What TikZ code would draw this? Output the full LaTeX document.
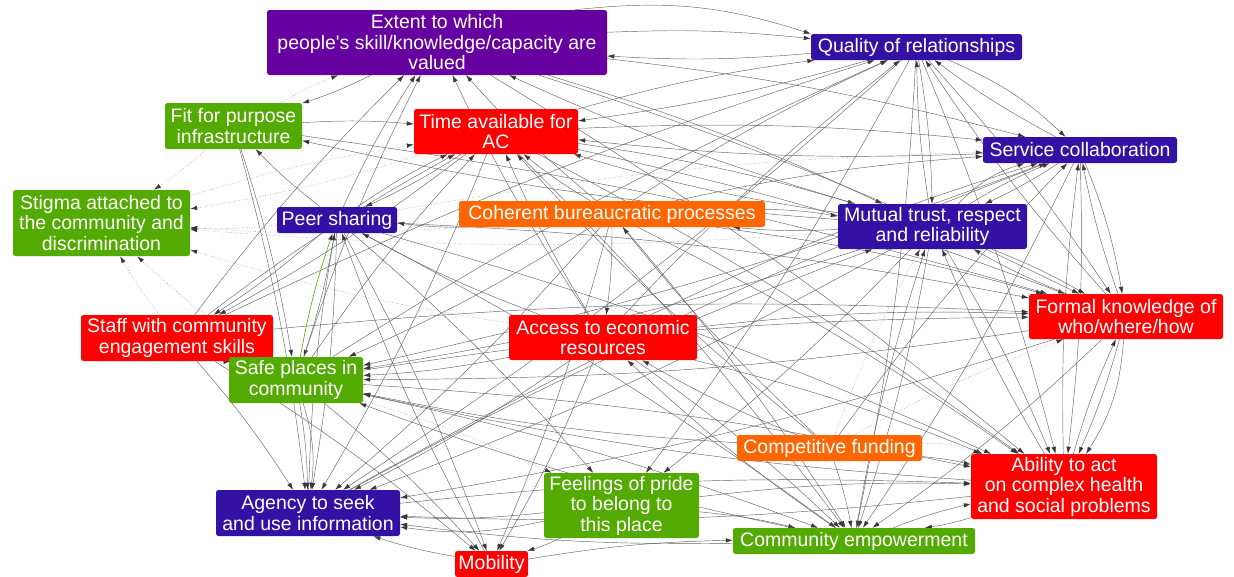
\documentclass[tikz,border=0pt]{standalone}
\usepackage{fontspec}
\setmainfont{Liberation Sans}
\usetikzlibrary{arrows.meta,backgrounds}
\definecolor{cpur}{RGB}{102,0,160}
\definecolor{cblu}{RGB}{51,17,165}
\definecolor{cgrn}{RGB}{83,170,0}
\definecolor{cred}{RGB}{255,0,0}
\definecolor{corg}{RGB}{255,102,0}
\definecolor{cline}{RGB}{100,100,100}
\definecolor{ctip}{RGB}{55,55,55}
\tikzset{
  nbox/.style={rounded corners=2.5pt, inner sep=0pt, text=white, align=center,
    font=\fontsize{19.5}{20.5}\selectfont},
  ed/.style={draw=cline, line width=0.45pt, bend left=4,
    -{Latex[length=7pt,width=4.5pt,color=ctip]}},
  dt/.style={ed, draw=black!45, dotted, line width=0.6pt},
  gr/.style={ed, draw=cgrn, line width=0.6pt}
}
\begin{document}
\begin{tikzpicture}[x=1pt,y=-1pt]
\useasboundingbox (0,0) rectangle (1234,576);
% nodes
\node[nbox,fill=cpur,minimum width=340,minimum height=65] (EX) at (437,42.5) {Extent to which\\people\textquotesingle s skill/knowledge/capacity are\\valued};
\node[nbox,fill=cblu,minimum width=211,minimum height=26] (QR) at (916.5,47) {Quality of relationships};
\node[nbox,fill=cgrn,minimum width=137,minimum height=46] (FP) at (233.5,126) {Fit for purpose\\infrastructure};
\node[nbox,fill=cred,minimum width=164,minimum height=45] (TA) at (496,131.5) {Time available for\\AC};
\node[nbox,fill=cblu,minimum width=194,minimum height=26] (SC) at (1080,150) {Service collaboration};
\node[nbox,fill=cgrn,minimum width=177,minimum height=66] (ST) at (101.5,223) {Stigma attached to\\the community and\\discrimination};
\node[nbox,fill=cblu,minimum width=120,minimum height=26] (PS) at (337,220) {Peer sharing};
\node[nbox,fill=corg,minimum width=306,minimum height=26] (CB) at (612,214) {Coherent bureaucratic processes};
\node[nbox,fill=cblu,minimum width=189,minimum height=45] (MT) at (932.5,226.5) {Mutual trust, respect\\and reliability};
\node[nbox,fill=cred,minimum width=192,minimum height=46] (SW) at (177,338) {Staff with community\\engagement skills};
\node[nbox,fill=cred,minimum width=188,minimum height=45] (AE) at (603,337.5) {Access to economic\\resources};
\node[nbox,fill=cred,minimum width=194,minimum height=45] (FK) at (1126,316.5) {Formal knowledge of\\who/where/how};
\node[nbox,fill=cgrn,minimum width=134,minimum height=46] (SP) at (296,380) {Safe places in\\community};
\node[nbox,fill=corg,minimum width=185,minimum height=26] (CF) at (829.5,448) {Competitive funding};
\node[nbox,fill=cred,minimum width=186,minimum height=65] (AA) at (1064,486.5) {Ability to act\\on complex health\\and social problems};
\node[nbox,fill=cgrn,minimum width=155,minimum height=65] (FE) at (621.5,505.5) {Feelings of pride\\to belong to\\this place};
\node[nbox,fill=cblu,minimum width=184,minimum height=46] (AG) at (308,513) {Agency to seek\\and use information};
\node[nbox,fill=cgrn,minimum width=242,minimum height=26] (CE) at (854,541) {Community empowerment};
\node[nbox,fill=cred,minimum width=73,minimum height=26] (MO) at (491.5,564) {Mobility};
% edges
\begin{pgfonlayer}{background}
% from EX
\draw[ed] (EX) to[bend left=12] (QR.north west);
\draw[ed] (EX) to (QR);
\draw[ed] (EX) to (FP);
\draw[ed] (EX) to (SC);
\draw[ed] (EX) to (MT);
\draw[ed] (EX) to (AA);
\draw[ed] (EX) to (FK);
% from QR
\draw[ed] (QR) to (EX);
\draw[ed] (QR) to[bend left=10] (SC);
\draw[ed] (QR) to (MT);
\draw[ed] (QR) to (AA);
\draw[ed] (QR) to (FK);
\draw[ed] (QR) to (AG);
\draw[ed] (QR) to (FE);
\draw[ed] (QR) to (CE);
\draw[ed] (QR) to (TA);
% from FP
\draw[ed] (FP) to (TA);
\draw[dt] (FP) to (EX);
\draw[dt] (FP) to (ST);
\draw[ed] (FP) to (AG);
\draw[ed] (FP) to (SP);
\draw[ed] (FP) to (FK);
% from TA
\draw[ed] (TA) to (QR);
\draw[ed] (TA) to (SC);
\draw[ed] (TA) to (MT);
\draw[ed] (TA) to (PS);
\draw[dt] (TA) to (ST);
\draw[ed] (TA) to (SW);
\draw[ed] (TA) to (AG);
\draw[ed] (TA) to (AA);
\draw[ed] (TA) to (FK);
\draw[ed] (TA) to (CE);
% from SC
\draw[ed] (SC) to[bend left=6] (FK);
\draw[ed] (SC) to (AA);
\draw[ed] (SC) to (MT);
\draw[ed] (SC) to (TA);
\draw[ed] (SC) to (QR);
\draw[ed] (SC) to (SP);
\draw[ed] (SC) to (CE);
% from ST
\draw[dt] (ST) to (TA);
% from PS
\draw[ed] (PS) to (EX);
\draw[ed] (PS) to (TA);
\draw[ed] (PS) to (FP);
\draw[dt] (PS) to (SC);
\draw[dt] (PS) to (ST);
\draw[ed] (PS) to (SP);
\draw[ed] (PS) to (AG);
\draw[ed] (PS) to (MO);
\draw[ed] (PS) to (CE);
\draw[ed] (PS) to (AA);
\draw[ed] (PS) to (FK);
\draw[ed] (PS) to (SW);
\draw[ed] (PS) to (FE);
% from CB
\draw[ed] (CB) to (PS);
\draw[ed] (CB) to (AE);
\draw[ed] (CB) to (TA);
\draw[ed] (CB) to (QR);
\draw[ed] (CB) to (MT);
\draw[ed] (CB) to (SC);
\draw[dt] (CB) to (ST);
\draw[ed] (CB) to (SP);
\draw[ed] (CB) to (AA);
\draw[ed] (CB) to (FK);
\draw[ed] (CB) to (EX);
\draw[ed] (CB) to (AG);
\draw[ed] (CB) to (CE);
\draw[ed] (CB) to (MO);
% from MT
\draw[ed] (MT) to (QR);
\draw[ed] (MT) to (SC);
\draw[ed] (MT) to[bend left=14] (SC);
\draw[ed] (MT) to (CB);
\draw[ed] (MT) to (AA);
\draw[ed] (MT) to (FK);
\draw[ed] (MT) to (CE);
\draw[ed] (MT) to (SP);
\draw[ed] (MT) to (AG);
\draw[ed] (MT) to (TA);
\draw[ed] (MT) to (EX);
\draw[ed] (MT) to (FP);
\draw[ed] (MT) to (FE);
\draw[dt] (MT) to (ST);
% from SW
\draw[ed] (SW) to (EX);
\draw[ed] (SW) to (TA);
\draw[ed] (SW) to (SP);
\draw[ed] (SW) to (AG);
\draw[ed] (SW) to (MO);
\draw[dt] (SW) to (ST);
\draw[ed] (SW) to (QR);
\draw[ed] (SW) to (FK);
% from AE
\draw[ed] (AE) to (TA);
\draw[ed] (AE) to (EX);
\draw[ed] (AE) to (QR);
\draw[ed] (AE) to (SP);
\draw[ed] (AE) to (AG);
\draw[ed] (AE) to (MO);
\draw[ed] (AE) to (CE);
\draw[ed] (AE) to (AA);
\draw[ed] (AE) to (FK);
\draw[ed] (AE) to (SC);
\draw[dt] (AE) to (ST);
\draw[ed] (AE) to (PS);
% from FK
\draw[ed] (FK) to (AA);
\draw[ed] (FK) to[bend left=14] (AA);
\draw[ed] (FK) to (SC);
\draw[ed] (FK) to (CE);
\draw[ed] (FK) to (AG);
\draw[ed] (FK) to (SP);
\draw[ed] (FK) to (QR);
\draw[ed] (FK) to (MT);
% from SP
\draw[gr] (SP) to (PS);
\draw[ed] (SP) to (SW);
\draw[ed] (SP) to (EX);
\draw[ed] (SP) to (TA);
\draw[ed] (SP) to (AG);
\draw[ed] (SP) to[bend left=12] (AG);
\draw[ed] (SP) to (MO);
\draw[dt] (SP) to (FE);
\draw[ed] (SP) to (CE);
\draw[ed] (SP) to (AA);
\draw[ed] (SP) to (FK);
\draw[dt] (SP) to (ST);
\draw[ed] (SP) to (QR);
% from CF
\draw[ed] (CF) to (AA);
\draw[dt] (CF) to[bend left=12] (AA);
\draw[ed] (CF) to (CE);
\draw[ed] (CF) to (AE);
\draw[ed] (CF) to (CB);
\draw[ed] (CF) to (SP);
\draw[ed] (CF) to (TA);
\draw[ed] (CF) to (SC);
\draw[dt] (CF) to (FK);
\draw[dt] (CF) to (MT);
% from AA
\draw[ed] (AA) to (CE);
\draw[ed] (AA) to (SP);
\draw[ed] (AA) to (FK);
\draw[ed] (AA) to (AG);
\draw[ed] (AA) to (SC);
\draw[ed] (AA) to (MT);
% from FE
\draw[ed] (FE) to (AG);
\draw[ed] (FE) to[bend left=10] (AG);
\draw[ed] (FE) to (CE);
\draw[ed] (FE) to (AA);
\draw[ed] (FE) to (MO);
% from AG
\draw[ed] (AG) to (PS);
\draw[ed] (AG) to (MT);
\draw[ed] (AG) to (SC);
\draw[ed] (AG) to (AA);
% from CE
\draw[ed] (CE) to (AA);
\draw[ed] (CE) to (AG);
\draw[ed] (CE) to (SP);
\draw[ed] (CE) to (AE);
\draw[ed] (CE) to (MT);
% from MO
\draw[ed] (MO) to (AG);
\draw[ed] (MO) to (CE);
\draw[ed] (MO) to (PS);
\end{pgfonlayer}
\end{tikzpicture}
\end{document}
